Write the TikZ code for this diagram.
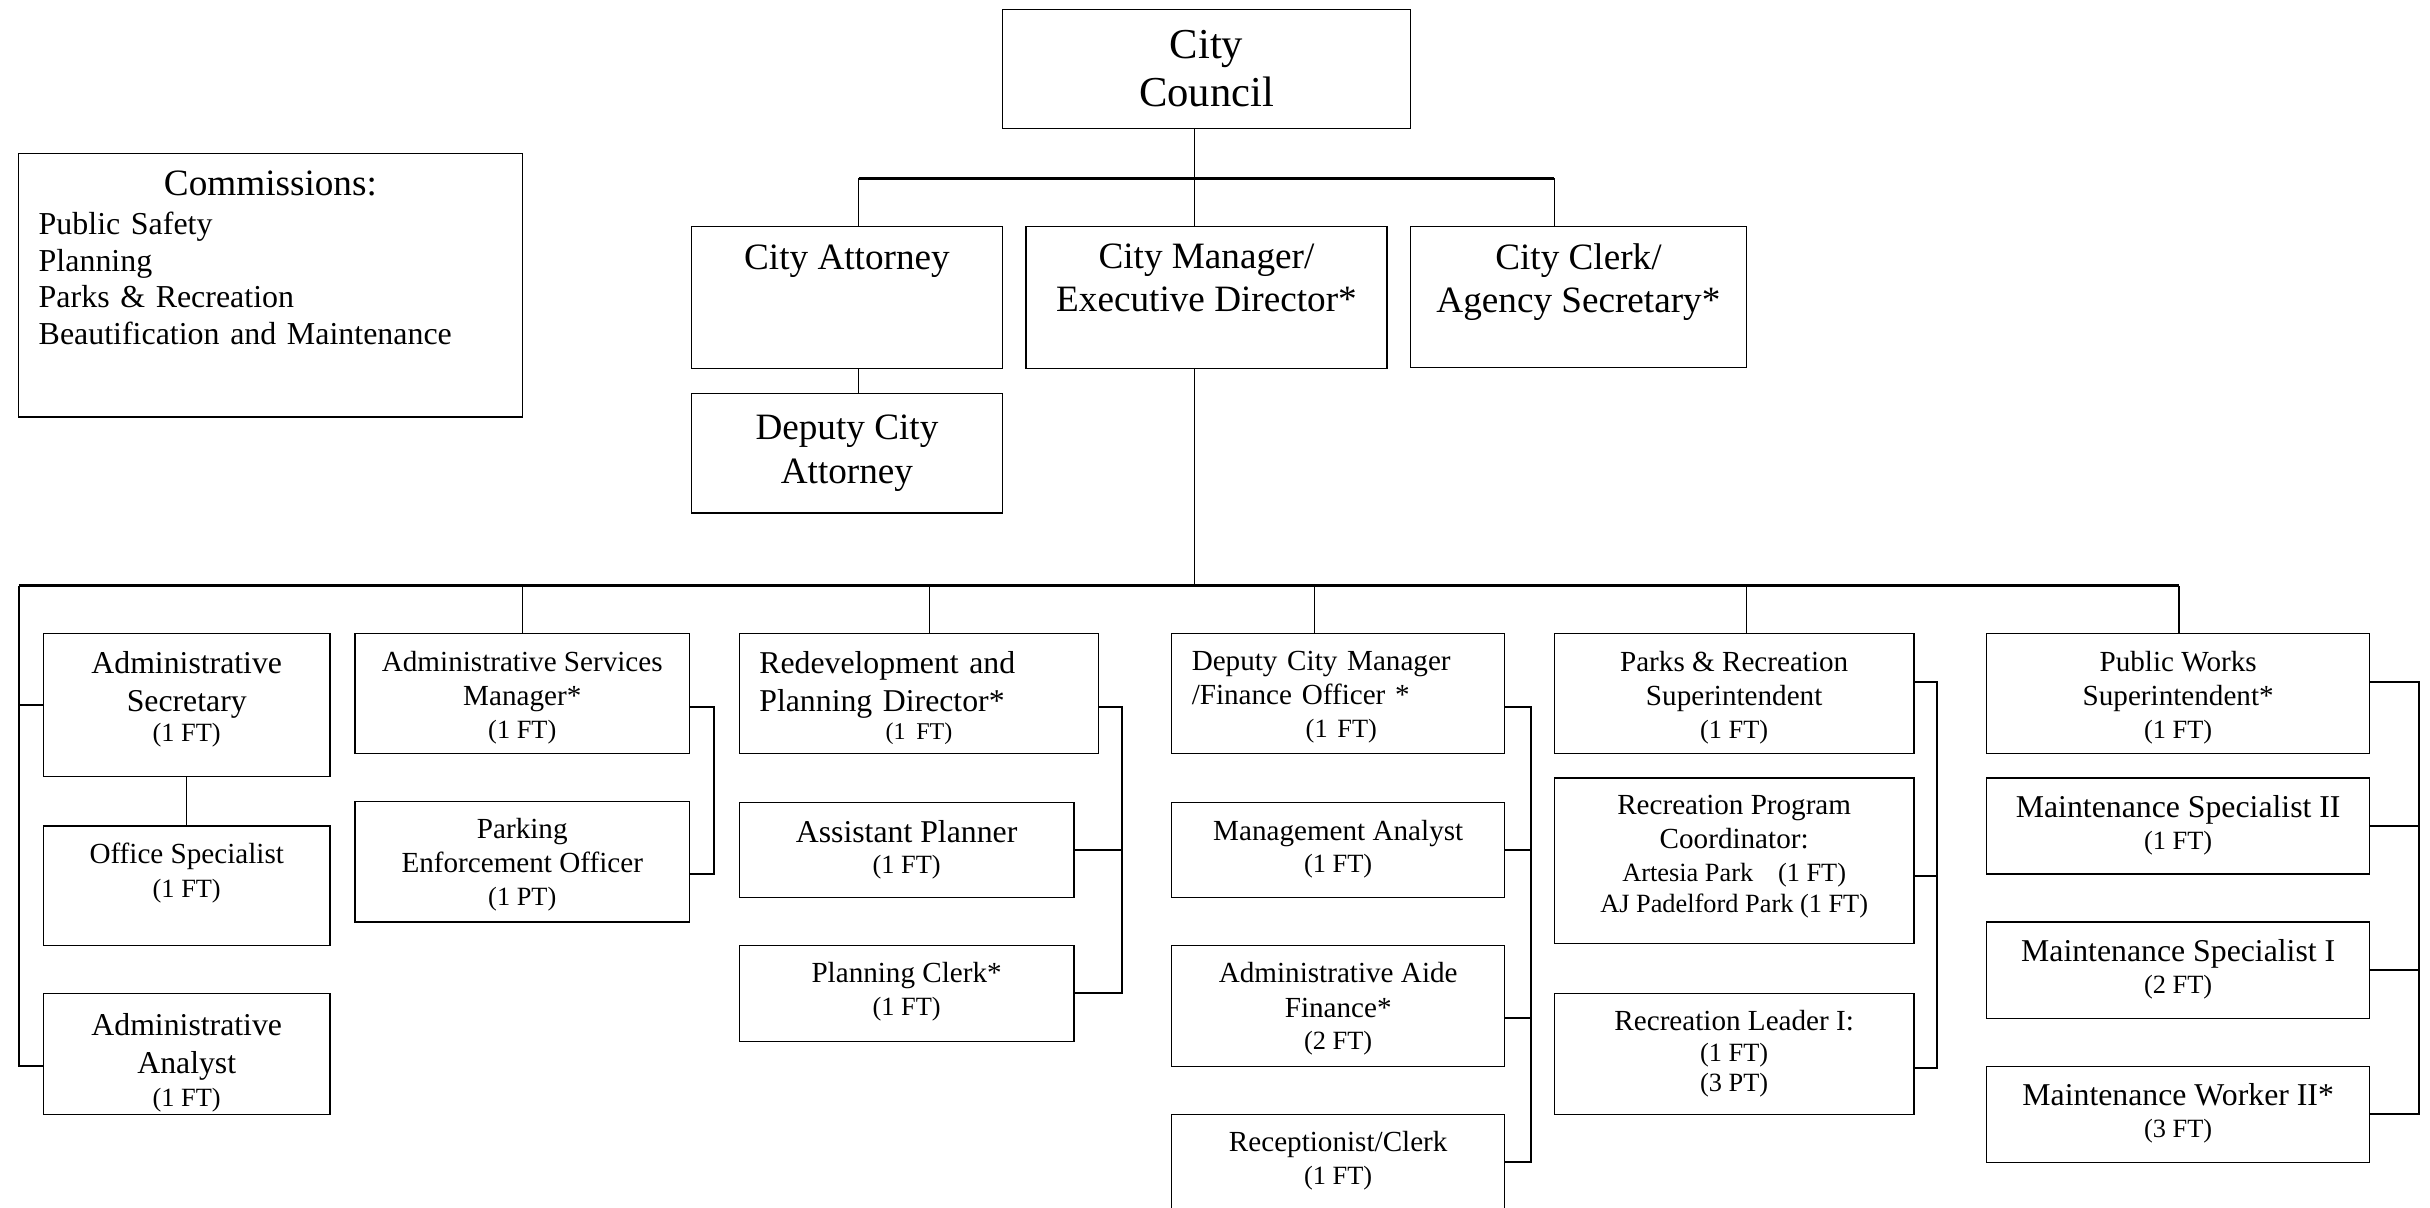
\documentclass[tikz,border=0pt]{standalone}
\usepackage{fontspec}
\setmainfont{Liberation Serif}
% font sizes used in the boxes
\newcommand{\fcc}{\fontsize{27.5}{31}\selectfont}
\newcommand{\ftop}{\fontsize{24}{28}\selectfont}
\newcommand{\fbig}{\fontsize{20.5}{24.5}\selectfont}
\newcommand{\fmed}{\fontsize{18.8}{22}\selectfont}
\newcommand{\staff}[1]{{\fontsize{17}{20}\selectfont #1}}
\tikzset{
	box/.style={draw, line width=0.8pt, inner sep=0pt, outer sep=0pt, anchor=north west},
	sz/.style 2 args={minimum width=#1pt, minimum height=#2pt},
	lb/.style={anchor=north, inner sep=0pt, yshift=-11pt, align=center},
	link/.style={line width=0.8pt},
	bar/.style={line width=2pt},
	brace/.style={line width=1.3pt}
}
\begin{document}
\begin{tikzpicture}[x=1pt, y=-1pt]
		\useasboundingbox (0,0) rectangle (1568,779);
		% top of the chart
		\node[box, sz={263}{77}, align=center, font=\fcc] (cc) at (647,6) {City\\Council};
		\node[box, sz={325}{170}, label={[lb, text width=299pt, align=left, font=\fontsize{20.6}{23.5}\selectfont]north:{\makebox[\linewidth]{\ftop Commissions:}\\[2pt]Public Safety\\Planning\\Parks \& Recreation\\Beautification and Maintenance}}] (com) at (12,99) {};
		\node[box, sz={201}{92}, label={[lb, font=\ftop, yshift=-1pt]north:{City Attorney}}] (ca) at (446,146) {};
		\node[box, sz={233}{92}, label={[lb, font=\ftop]north:{City Manager/\\Executive Director*}}] (cm) at (662,146) {};
		\node[box, sz={217}{91}, label={[lb, font=\ftop]north:{City Clerk/\\Agency Secretary*}}] (clk) at (910,146) {};
		\node[box, sz={201}{77}, align=center, font=\ftop] (dca) at (446,254) {Deputy City\\Attorney};
		% departments
		\node[box, sz={185}{92}, label={[lb, font=\fbig]north:{Administrative\\Secretary\\[-5pt]\staff{(1 FT)}}}] (asec) at (28,409) {};
		\node[box, sz={185}{77}, label={[lb, font=\fmed]north:{Office Specialist\\\staff{(1 FT)}}}] (os) at (28,533) {};
		\node[box, sz={185}{78}, label={[lb, font=\fbig, yshift=-1.5pt]north:{Administrative\\Analyst\\[-3pt]\staff{(1 FT)}}}] (aan) at (28,641) {};
		\node[box, sz={216}{77}, label={[lb, font=\fmed]north:{Administrative Services\\Manager*\\[-1pt]\staff{(1 FT)}}}] (asm) at (229,409) {};
		\node[box, sz={216}{78}, label={[lb, font=\fmed]north:{Parking\\Enforcement Officer\\[-1pt]\staff{(1 PT)}}}] (peo) at (229,517) {};
		\node[box, sz={232}{77}, label={[lb, text width=206pt, align=left, font=\fbig]north:{Redevelopment and\\Planning Director*\\[-6pt]\makebox[\linewidth]{\fontsize{15.5}{18}\selectfont (1 FT)}}}] (rpd) at (477,409) {};
		\node[box, sz={216}{61}, label={[lb, font=\fbig]north:{Assistant Planner\\[-4pt]\staff{(1 FT)}}}] (ap) at (477,518) {};
		\node[box, sz={216}{62}, label={[lb, font=\fmed]north:{Planning Clerk*\\[-1pt]\staff{(1 FT)}}}] (pc) at (477,610) {};
		\node[box, sz={215}{77}, label={[lb, text width=189pt, align=left, font=\fmed]north:{Deputy City Manager\\/Finance Officer *\\[-1pt]\makebox[\linewidth]{\staff{\hspace{4pt}(1 FT)}}}}] (dcm) at (756,409) {};
		\node[box, sz={215}{61}, label={[lb, font=\fmed]north:{Management Analyst\\[-1pt]\staff{(1 FT)}}}] (ma) at (756,518) {};
		\node[box, sz={215}{78}, label={[lb, font=\fmed]north:{Administrative Aide\\Finance*\\[-1pt]\staff{(2 FT)}}}] (aaf) at (756,610) {};
		\node[box, sz={215}{62}, label={[lb, font=\fmed]north:{Receptionist/Clerk\\[-1pt]\staff{(1 FT)}}}] (rec) at (756,719) {};
		\node[box, sz={232}{77}, label={[lb, font=\fmed]north:{Parks \& Recreation\\Superintendent\\[-1pt]\staff{(1 FT)}}}] (prs) at (1003,409) {};
		\node[box, sz={232}{107}, label={[lb, font=\fmed]north:{Recreation Program\\Coordinator:\\[-1pt]\staff{Artesia Park\hspace{16pt}(1 FT)}\\[-2pt]\staff{AJ Padelford Park (1 FT)}}}] (rpc) at (1003,502) {};
		\node[box, sz={232}{78}, label={[lb, font=\fmed]north:{Recreation Leader I:\\[-2pt]\staff{(1 FT)}\\[-3pt]\staff{(3 PT)}}}] (rl) at (1003,641) {};
		\node[box, sz={247}{77}, label={[lb, font=\fmed]north:{Public Works\\Superintendent*\\[-1pt]\staff{(1 FT)}}}] (pws) at (1282,409) {};
		\node[box, sz={247}{62}, label={[lb, font=\fbig]north:{Maintenance Specialist II\\[-4pt]\staff{(1 FT)}}}] (ms2) at (1282,502) {};
		\node[box, sz={247}{62}, label={[lb, font=\fbig]north:{Maintenance Specialist I\\[-4pt]\staff{(2 FT)}}}] (ms1) at (1282,595) {};
		\node[box, sz={247}{62}, label={[lb, font=\fbig]north:{Maintenance Worker II*\\[-4pt]\staff{(3 FT)}}}] (mw2) at (1282,688) {};
		% council level lines
		\coordinate (j0) at (771,115);
		\coordinate (b0L) at (554,115);
		\coordinate (b0R) at (1003,115);
		\draw[link] (j0 |- cc.south) -- (j0 |- cm.north);
		\draw[bar] (b0L) -- (b0R);
		\draw[link] (b0L) -- (b0L |- ca.north);
		\draw[link] (b0R) -- (b0R |- clk.north);
		\draw[link] (b0L |- ca.south) -- (b0L |- dca.north);
		% trunk under the city manager
		\coordinate (t0) at (771,378);
		\coordinate (tL) at (12,378);
		\coordinate (tR) at (1406,378);
		\draw[link] (t0 |- cm.south) -- (t0);
		\draw[bar] (tL) -- (tR);
		\coordinate (d1) at (337,378);
		\coordinate (d2) at (600,378);
		\coordinate (d3) at (848,378);
		\coordinate (d4) at (1127,378);
		\coordinate (d5) at (1406,378);
		\foreach \c/\n in {d1/asm, d2/rpd, d3/dcm, d4/prs, d5/pws}
			\draw[link] (\c) -- (\c |- \n.north);
		% left column
		\coordinate (aan-s) at ([yshift=-8pt]aan.west);
		\draw[brace] (tL) |- (aan-s);
		\draw[brace] (tL |- asec.west) -- (asec.west);
		\draw[link] (asec.south) -- (os.north);
		% brackets on the right of each column
		\coordinate (bx1) at (461,0);
		\coordinate (bx2) at (724,0);
		\coordinate (bx3) at (988,0);
		\coordinate (bx4) at (1250,0);
		\coordinate (bx5) at (1561,0);
		\coordinate (asm-s) at ([yshift=-8.5pt]asm.east);
		\coordinate (peo-s) at ([yshift=-8pt]peo.east);
		\coordinate (rpd-s) at ([yshift=-8.5pt]rpd.east);
		\coordinate (dcm-s) at ([yshift=-8.5pt]dcm.east);
		\coordinate (aaf-s) at ([yshift=-8pt]aaf.east);
		\coordinate (prs-s) at ([yshift=7.5pt]prs.east);
		\coordinate (rpc-s) at ([yshift=-9.5pt]rpc.east);
		\coordinate (rl-s) at ([yshift=-9pt]rl.east);
		\coordinate (pws-s) at ([yshift=7.5pt]pws.east);
		\draw[brace] (asm-s) -| (bx1 |- peo-s) -- (peo-s);
		\draw[brace] (rpd-s) -| (bx2 |- pc.east) -- (pc.east);
		\draw[brace] (ap.east) -- (ap.east -| bx2);
		\draw[brace] (dcm-s) -| (bx3 |- rec.east) -- (rec.east);
		\foreach \c in {ma.east, aaf-s}
			\draw[brace] (\c) -- (\c -| bx3);
		\draw[brace] (prs-s) -| (bx4 |- rl-s) -- (rl-s);
		\draw[brace] (rpc-s) -- (rpc-s -| bx4);
		\draw[brace] (pws-s) -| (bx5 |- mw2.east) -- (mw2.east);
		\foreach \c in {ms2.east, ms1.east}
			\draw[brace] (\c) -- (\c -| bx5);
\end{tikzpicture}
\end{document}
